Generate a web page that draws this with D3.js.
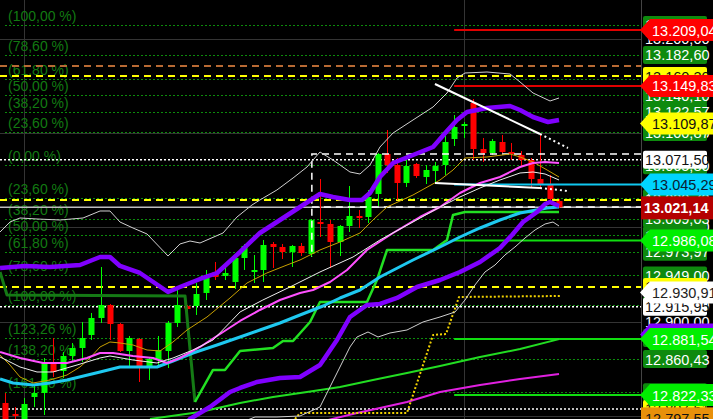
<!DOCTYPE html>
<html><head><meta charset="utf-8">
<script src="https://cdn.jsdelivr.net/npm/d3@7"></script>
<style>body{margin:0;background:#000;overflow:hidden}svg{display:block}text{font-family:'Liberation Sans',Arial,sans-serif}</style>
</head><body><svg id="c" width="713" height="419"></svg>
<script>
// ---------- DATA ----------
const candleOpen = [12813.87,12802.21,12795.86,12820.22,12824.46,12855.18,12847.77,12863.66,12872.13,12885.91,12903.92,12917.69,12897.56,12868.96,12881.67,12853.06,12859.42,12868.96,12898.62,12916.63,12916.63,12930.40,12952.65,12948.41,12942.06,12967.48,12952.65,12954.77,12982.32,12979.14,12973.84,12980.20,12971.72,13005.62,13003.51,12984.44,13001.39,13011.98,13010.92,13035.29,13077.67,13066.01,13046.94,13067.07,13053.30,13059.66,13066.01,13093.56,13107.33,13131.70,13082.96,13078.73,13090.38,13079.79,13076.61,13071.31,13051.18,13044.82,13027.87];
const candleHigh = [12824.46,12809.63,12819.16,12834.00,12861.54,12882.73,12867.90,12877.43,12899.68,12909.22,12957.95,12918.75,12898.62,12884.85,12882.73,12862.60,12884.85,12900.74,12934.64,12917.69,12941.00,12954.77,12963.25,12962.19,12969.60,12982.32,12970.66,12986.55,12984.44,12982.32,12981.26,12983.38,13008.80,13051.18,13007.74,13002.40,13043.76,13018.34,13039.53,13078.73,13103.09,13073.43,13073.43,13068.13,13066.01,13069.19,13096.74,13118.98,13111.57,13135.94,13094.62,13093.56,13097.80,13089.32,13080.84,13073.43,13098.86,13055.42,13029.99];
const candleLow = [12790.56,12793.74,12794.80,12809.63,12801.15,12841.41,12840.35,12857.30,12857.30,12880.61,12898.62,12880.61,12867.90,12852.01,12836.11,12838.23,12850.95,12850.95,12894.38,12898.62,12907.10,12922.99,12944.18,12944.18,12934.64,12954.77,12941.00,12942.06,12956.89,12966.43,12957.95,12969.60,12968.54,12989.73,12956.89,12969.60,12995.03,12999.27,13004.56,13022.58,13057.54,13028.93,13042.70,13052.24,13045.88,13046.94,13055.42,13086.14,13094.62,13071.31,13069.19,13076.61,13078.73,13071.31,13064.95,13042.70,13041.65,13028.93,13020.46];
const candleClose = [12793.74,12800.09,12812.81,12824.46,12856.24,12846.71,12863.66,12872.13,12882.73,12903.92,12917.69,12897.56,12868.96,12882.73,12852.01,12860.48,12870.02,12898.62,12917.69,12913.45,12929.34,12947.35,12947.35,12951.59,12967.48,12980.20,12954.77,12981.26,12979.14,12973.84,12980.20,12972.78,13007.74,13003.51,12984.44,13001.39,13011.98,13010.92,13032.11,13077.67,13066.01,13046.94,13064.95,13054.36,13060.72,13064.95,13090.38,13106.27,13109.45,13082.96,13078.73,13091.44,13079.79,13078.73,13071.31,13051.18,13045.88,13029.99,13021.14];

const purpleUpIdx = [-0.55,2.06,4.68,7.82,9.92,10.96,12.01,14.1,17.04,18.29,20.39,22.17,24.58,26.66,28.76,30.86,32.95,34.31,36.09,37.35,38.19,39.23,40.6,42.69,44.79,46.25,47.3,48.35,50.44,52.85,53.9,55.26,56.83,57.98];
const purpleUpVal = [12956.89,12959.01,12957.95,12960.07,12968.54,12968.54,12959.01,12951.59,12931.46,12936.76,12945.24,12951.59,12973.84,12993.97,13007.74,13021.52,13035.29,13032.11,13028.93,13028.93,13036.35,13053.30,13068.13,13076.61,13085.08,13102.03,13113.69,13122.16,13126.40,13128.52,13124.28,13116.87,13111.57,13113.69];
const purpleLowIdx = [18.82,19.34,21.43,23.53,24.58,26.35,28.76,30.86,32.95,34.73,36.09,37.87,39.23,41.02,43.11,45.52,47.61,49.71,51.8,53.06,54.21,55.68,56.52,57.04,57.98];
const purpleLowVal = [12790.56,12796.91,12809.63,12825.52,12829.76,12836.11,12840.35,12841.41,12854.12,12880.61,12904.98,12917.69,12918.75,12925.11,12936.76,12944.18,12952.65,12963.25,12978.08,12991.85,13005.62,13016.22,13024.69,13026.81,13022.58];
const bandUpIdx = [-0.55,0.49,1.54,3.32,5.73,8.14,9.92,10.96,12.01,13.37,14.84,17.04,18.29,19.34,20.39,22.8,24.26,25.83,26.66,28.44,30.13,31.59,32.95,34.31,36.09,37.14,38.19,39.23,40.6,42.69,44.79,46.25,47.3,48.14,50.44,52.85,53.9,55.26,57.04,57.98];
const bandUpVal = [12995.03,13005.62,13009.86,13008.80,13007.74,13009.86,13017.28,13017.28,13005.62,12999.27,12992.91,12969.60,12982.32,12985.49,12983.38,12993.97,13010.92,13023.63,13028.93,13039.53,13052.24,13063.89,13079.79,13071.31,13058.60,13056.48,13066.01,13085.08,13099.91,13113.69,13127.46,13142.29,13158.18,13163.48,13164.54,13162.42,13153.95,13142.29,13133.82,13136.99];
const bandLowIdx = [24.05,26.15,28.45,30.86,32.95,34.73,36.09,36.83,37.98,39.03,40.28,42.06,43.74,45.52,47.09,48.14,49.18,50.23,51.28,52.32,53.37,54.42,55.47,56.52,57.35,57.98];
const bandLowVal = [12790.56,12799.03,12799.03,12800.09,12809.63,12845.65,12873.19,12883.79,12889.09,12883.79,12888.03,12891.20,12899.68,12904.98,12910.27,12922.99,12938.88,12952.65,12960.07,12970.66,12979.14,12988.67,12997.15,13003.51,13005.62,13001.39];
const goldIdx = [-0.55,0.49,1.54,2.9,4.68,6.46,7.82,8.87,9.92,10.96,12.01,13.37,14.84,16.2,17.56,19.03,21.12,23.53,25.31,27.39,29.5,30.86,32.95,35.05,37.14,38.5,39.97,42.69,45.52,46.88,48.14,50.44,52.85,53.9,55.26,56.73,57.98];
const goldVal = [12864.72,12854.12,12841.41,12835.05,12838.23,12843.53,12852.01,12861.54,12873.19,12878.49,12877.43,12875.31,12870.02,12868.96,12878.49,12891.20,12904.98,12925.11,12941.00,12951.59,12960.07,12965.37,12975.96,12984.44,12993.97,13007.74,13021.52,13034.23,13050.12,13060.72,13073.43,13074.49,13077.67,13074.49,13069.19,13060.72,13053.30];
const pinkIdx = [-0.55,1.54,3.95,6.46,8.55,9.92,11.28,13.37,15.47,16.93,18.29,20.39,22.48,24.58,26.66,28.76,30.86,32.22,34.0,35.78,37.87,40.6,43.42,45.52,47.61,49.71,51.8,53.9,55.26,56.52,57.98];
const pinkVal = [12867.90,12861.54,12856.24,12856.24,12861.54,12866.84,12866.84,12863.66,12861.54,12856.24,12861.54,12873.19,12886.97,12900.74,12912.39,12922.99,12930.40,12933.58,12942.06,12954.77,12975.96,12993.97,13010.92,13021.52,13036.35,13046.94,13053.30,13063.89,13068.13,13069.19,13068.13];
const whiteMaIdx = [-0.55,1.54,3.32,4.99,7.51,9.92,10.96,13.37,15.88,17.56,19.65,21.75,24.58,26.97,29.81,32.95,36.41,39.23,42.69,45.52,47.61,49.71,51.8,53.9,55.26,56.52,57.98];
const whiteMaVal = [12862.60,12852.01,12846.71,12846.71,12854.12,12861.54,12863.66,12859.42,12856.24,12861.54,12870.02,12880.61,12910.27,12922.99,12936.76,12952.65,12968.54,12986.55,13005.62,13021.52,13032.11,13041.65,13050.12,13057.54,13058.60,13056.48,13050.12];
const cyanIdx = [-0.55,0.81,2.9,4.68,6.46,9.92,12.01,15.88,17.56,19.65,22.17,24.58,26.66,28.76,30.86,33.27,35.05,37.14,39.23,42.69,45.52,47.61,49.71,51.8,53.9,56.73,57.98];
const cyanVal = [12839.29,12835.05,12832.94,12835.05,12838.23,12846.71,12852.01,12852.01,12858.36,12866.84,12875.31,12883.79,12891.20,12898.62,12907.10,12916.63,12925.11,12933.58,12947.35,12965.37,12979.14,12989.73,12999.27,13007.74,13015.16,13020.46,13021.52];
const stepDarkIdx = [-0.55,0.18,18.82,19.86];
const stepDarkVal = [12952.65,12928.29,12927.23,12814.92];
const stepIdx = [19.86,21.75,23.0,24.58,28.03,29.08,30.13,31.91,32.95,37.87,38.92,39.97,44.79,46.25,46.88,48.14,57.98];
const stepVal = [12814.92,12848.83,12848.83,12868.96,12872.13,12879.55,12879.55,12899.68,12920.87,12920.87,12944.18,12975.96,12975.96,12986.55,13013.04,13016.22,13016.22];
const greenLowIdx = [15.15,20.39,24.58,28.03,31.59,35.05,38.5,42.06,45.52,49.71,53.9,57.98];
const greenLowVal = [12796.91,12804.33,12813.87,12820.22,12825.52,12830.82,12838.23,12845.65,12853.06,12862.60,12871.08,12881.54];
const magLowIdx = [32.95,36.83,39.23,42.06,45.52,49.71,53.9,57.98];
const magLowVal = [12793.74,12803.27,12808.57,12814.92,12825.52,12832.94,12839.29,12844.59];
const yellowDotIdx = [30.34,30.86,42.06,44.79,46.15,47.51,58.08];
const yellowDotVal = [12796.91,12803.27,12803.27,12885.91,12886.97,12926.17,12927.23];
const trendIdx = [44.99,55.99,58.92];
const trendUpVal = [13151.83,13098.86,13084.02];
const trendLowVal = [13046.94,13041.65,13038.47];
const boxStartIdx = 32.1;
const boxTop = 13077.67, boxBottom = 13021.52, boxVertEnd = 12968.54;

const gridLevels = [13200,13100,13000,12900,12800];
const gridDayIdx = [2,48];
const fibUpperPct = ["100,00","78,60","61,80","50,00","38,20","23,60","0,00"];
const fibUpperVal = [13214.40,13182.60,13157.63,13140.10,13122.57,13100.87,13065.80];
const fibLowerPct = ["23,60","38,20","50,00","61,80","78,60","100,00","123,26","138,20","161,80"];
const fibLowerVal = [13030.73,13009.03,12991.50,12973.97,12949.00,12917.20,12882.64,12860.43,12825.36];

const orangeDashLevels = [13170.90];
const yellowDashLevels = [13160.30,13028.93,12936.76];
const whiteDotLevels = [13071.50,12915.95,12807.51];
const levelStartIdx = 47;
const redLevels = [13209.04,13149.83];
const cyanLevels = [13045.29];
const greenLevels = [12986.08,12881.54,12822.33];

const boxWhiteVals = [13071.50,12915.95];
const boxYellowVals = [13160.30,12936.76,12807.51];
const arrowPurpleVals = [12886.50];
const arrowRedVals = [13209.04,13149.83];
const arrowYellowVals = [13109.87];
const arrowCyanVals = [13045.29];
const arrowGreenVals = [12986.08,12881.54,12822.33];
const arrowWhiteVals = [12930.91];
const boxOrangeVals = [12797.55];

// ---------- CHART ----------
const W=713,H=419,PR=641;
const x = d3.scaleLinear().domain([0,58]).range([5.3,559.2]);
const y = d3.scaleLinear().domain([13209.04,12822.33]).range([30,395]);
const loc = d3.formatLocale({decimal:",",thousands:".",grouping:[3],currency:["",""]});
const fmt = loc.format(",.2f");
const svg = d3.select('#c');
svg.append('rect').attr('width',W).attr('height',H).attr('fill','#000');
svg.append('defs').append('clipPath').attr('id','clip').append('rect').attr('width',PR).attr('height',H);
const plot = svg.append('g').attr('clip-path','url(#clip)');
const line = d3.line().x(d=>x(d[0])).y(d=>y(d[1]));

// grid
plot.selectAll('.gh').data(gridLevels).join('line').attr('x1',0).attr('x2',PR)
  .attr('y1',d=>Math.round(y(d))+0.5).attr('y2',d=>Math.round(y(d))+0.5).attr('stroke','#343434');
plot.selectAll('.gv').data(gridDayIdx).join('line').attr('y1',0).attr('y2',H)
  .attr('x1',d=>Math.round(x(d))+0.5).attr('x2',d=>Math.round(x(d))+0.5).attr('stroke','#343434');

// fib
const fibs = fibUpperVal.map((v,i)=>({v,t:`(${fibUpperPct[i]} %)`})).concat(fibLowerVal.map((v,i)=>({v,t:`(${fibLowerPct[i]} %)`})));
plot.selectAll('.fl').data(fibs).join('line').attr('x1',5).attr('x2',PR)
  .attr('y1',d=>Math.round(y(d.v))+0.5).attr('y2',d=>Math.round(y(d.v))+0.5)
  .attr('stroke','#0c8c0c').attr('stroke-dasharray','2,2');
plot.selectAll('.ft').data(fibs).join('text').attr('x',8).attr('y',d=>y(d.v)-4)
  .attr('fill','#127a12').attr('font-size',14).text(d=>d.t);

function hlines(vals,x0,color,w,dash){
  plot.selectAll(null).data(vals).join('line').attr('x1',x0).attr('x2',PR)
   .attr('y1',d=>y(d)).attr('y2',d=>y(d)).attr('stroke',color).attr('stroke-width',w)
   .attr('stroke-dasharray',dash||null);
}
hlines(orangeDashLevels,0,'#b86a34',2,'7,5');
hlines(yellowDashLevels,0,'#ffff00',2,'7,5');
hlines(whiteDotLevels,0,'#ffffff',1.5,'2,2');
hlines([candleClose[candleClose.length-1]],0,'#bdbdbd',1.5);

// candles
const cd = candleOpen.map((o,i)=>({i,o,h:candleHigh[i],l:candleLow[i],c:candleClose[i]}));
const cg = plot.append('g');
cg.selectAll('line').data(cd).join('line')
  .attr('x1',d=>Math.round(x(d.i))+0.5).attr('x2',d=>Math.round(x(d.i))+0.5)
  .attr('y1',d=>y(d.h)).attr('y2',d=>y(d.l)).attr('stroke',d=>d.c>=d.o?'#00ff00':'#ff0000');
cg.selectAll('rect').data(cd).join('rect')
  .attr('x',d=>Math.round(x(d.i))-2.5).attr('width',6)
  .attr('y',d=>Math.min(y(d.o),y(d.c))).attr('height',d=>Math.max(2,Math.abs(y(d.o)-y(d.c))))
  .attr('fill',d=>d.c>=d.o?'#00ff00':'#ff0000');

// dashed box
const bx = x(boxStartIdx);
plot.append('path').attr('d',`M${PR},${y(boxTop)}H${bx}V${y(boxVertEnd)}M${bx},${y(boxBottom)}H${PR}`)
  .attr('fill','none').attr('stroke','#fff').attr('stroke-width',1.5).attr('stroke-dasharray','7,5');

// partial levels
hlines(redLevels,x(levelStartIdx),'#e00000',2);
hlines(cyanLevels,x(levelStartIdx),'#10c8f0',2);
hlines(greenLevels,x(levelStartIdx),'#10dd10',2);

function series(idx,val,color,w,dash){
  plot.append('path').attr('d',line(d3.zip(idx,val))).attr('fill','none')
   .attr('stroke',color).attr('stroke-width',w).attr('stroke-linejoin','round')
   .attr('stroke-dasharray',dash||null);
}
series(magLowIdx,magLowVal,'#e020e0',2);
series(greenLowIdx,greenLowVal,'#22dd22',2);
series(yellowDotIdx,yellowDotVal,'#f0d000',2,'2,2');
series(stepDarkIdx,stepDarkVal,'#157a15',3);
series(stepIdx,stepVal,'#22e022',2.5);
series(cyanIdx,cyanVal,'#1ec8f0',3);
series(bandUpIdx,bandUpVal,'#d0d0d0',1);
series(bandLowIdx,bandLowVal,'#d0d0d0',1);
series(goldIdx,goldVal,'#c8a000',1);
series(pinkIdx,pinkVal,'#ff50ff',2);
series(whiteMaIdx,whiteMaVal,'#eeeeee',1);
series(purpleUpIdx,purpleUpVal,'#8000ff',4.5);
series(purpleLowIdx,purpleLowVal,'#8000ff',4.5);
series(trendIdx.slice(0,2),trendUpVal.slice(0,2),'#ffffff',2);
series(trendIdx.slice(1),trendUpVal.slice(1),'#ffffff',2,'2,3');
series(trendIdx.slice(0,2),trendLowVal.slice(0,2),'#ffffff',2);
series(trendIdx.slice(1),trendLowVal.slice(1),'#ffffff',2,'2,3');

// right axis
svg.append('line').attr('x1',PR+0.5).attr('x2',PR+0.5).attr('y1',0).attr('y2',H).attr('stroke','#444');
const ax = svg.append('g').attr('font-size',14.5);
ax.selectAll(null).data(gridLevels).join('text').attr('x',645).attr('y',d=>y(d)+5).attr('fill','#fff').text(d=>fmt(d));
function boxLab(vals,bg,fg){
  const g=ax.selectAll(null).data(vals).join('g');
  g.append('rect').attr('x',643).attr('width',64).attr('y',d=>y(d)-9).attr('height',18).attr('rx',2).attr('fill',bg);
  g.append('text').attr('x',645).attr('y',d=>y(d)+5.5).attr('fill',fg).text(d=>fmt(d));
}
function arrowLab(vals,bg,fg){
  const g=ax.selectAll(null).data(vals).join('g');
  g.append('path').attr('d',d=>{const c=y(d);return `M640,${c}L650,${c-11}H713V${c+11}H650Z`;}).attr('fill',bg);
  g.append('text').attr('x',652).attr('y',d=>y(d)+5.5).attr('fill',fg).text(d=>fmt(d));
}
boxLab(fibUpperVal.concat(fibLowerVal),'#0e8a0e','#ffffff');
boxLab(boxWhiteVals,'#ffffff','#111');
boxLab(boxYellowVals,'#ffff00','#111');
arrowLab(arrowPurpleVals,'#8000ff','#fff');
arrowLab(arrowRedVals,'#ff0000','#ffffff');
arrowLab(arrowYellowVals,'#ffff00','#111');
arrowLab(arrowCyanVals,'#00d4ff','#0a2030');
arrowLab(arrowGreenVals,'#00ee00','#ffffff');
arrowLab(arrowWhiteVals,'#ffffff','#222');
const og=ax.selectAll(null).data(boxOrangeVals).join('g');
og.append('rect').attr('x',641).attr('width',72).attr('y',d=>y(d)-11).attr('height',24).attr('fill','#e8900a');
og.append('text').attr('x',645).attr('y',d=>y(d)+5.5).attr('fill','#111').text(d=>fmt(d));
const last=candleClose[candleClose.length-1];
ax.append('rect').attr('x',641).attr('width',72).attr('y',y(last)-11).attr('height',23).attr('fill','#b40000');
ax.append('text').attr('x',644).attr('y',y(last)+5.5).attr('fill','#fff').attr('font-weight','bold').text(fmt(last));
</script></body></html>
